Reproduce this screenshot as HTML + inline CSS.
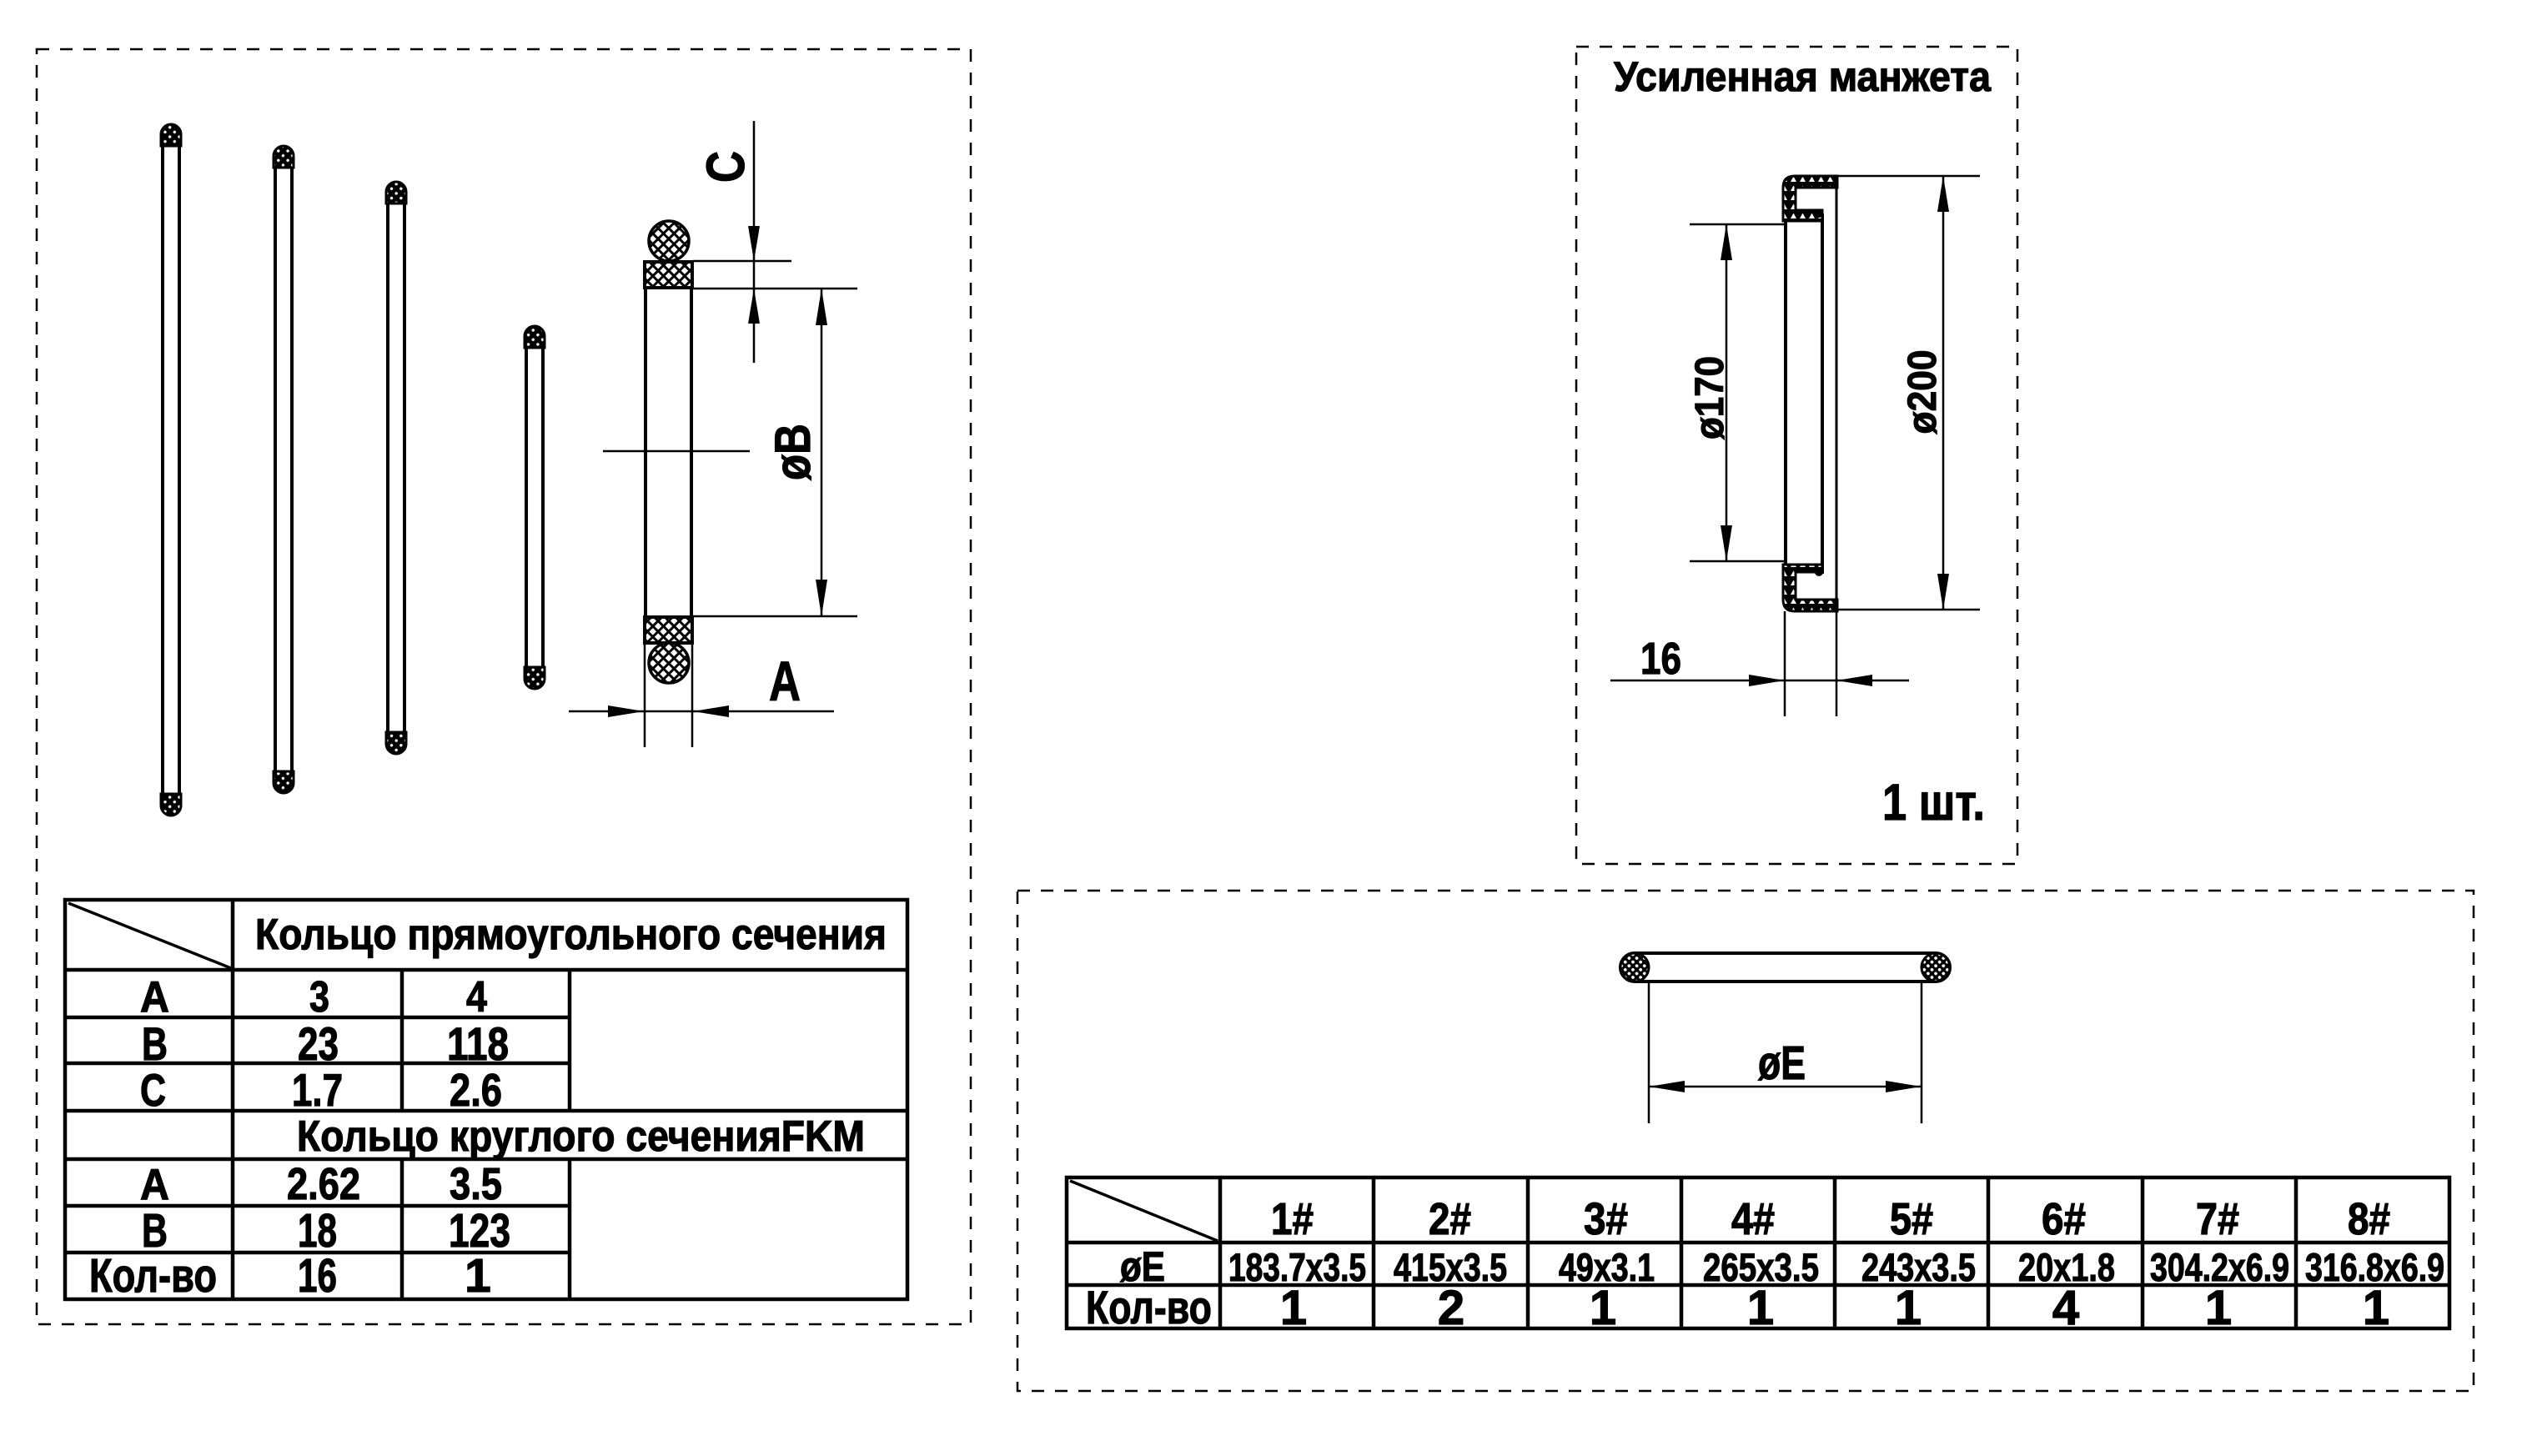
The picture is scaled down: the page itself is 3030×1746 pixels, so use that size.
<!DOCTYPE html>
<html><head><meta charset="utf-8">
<style>
html,body{margin:0;padding:0;background:#fff;}
svg{display:block;}
text{font-family:"Liberation Sans",Arial,sans-serif;font-weight:bold;fill:#000;stroke:#000;stroke-width:1.2px;}
</style></head><body>
<svg width="3030" height="1746" viewBox="0 0 3030 1746" xmlns="http://www.w3.org/2000/svg">
<defs>
<pattern id="xh" width="9" height="9" patternUnits="userSpaceOnUse" patternTransform="rotate(45)">
<rect width="9" height="9" fill="#fff"/>
<rect x="0" y="3" width="9" height="3" fill="#000"/>
<rect x="3" y="0" width="3" height="9" fill="#000"/>
</pattern>
<pattern id="dots" width="8" height="8" patternUnits="userSpaceOnUse" patternTransform="rotate(45)">
<rect width="8" height="8" fill="#000"/>
<circle cx="4" cy="4" r="1.7" fill="#fff"/>
</pattern>
<pattern id="dots2" width="6.5" height="6.5" patternUnits="userSpaceOnUse" patternTransform="rotate(45)">
<rect width="6.5" height="6.5" fill="#000"/>
<circle cx="3.25" cy="3.25" r="1.9" fill="#fff"/>
</pattern>
<pattern id="tri" width="11" height="11" patternUnits="userSpaceOnUse">
<rect width="11" height="11" fill="#000"/>
<path d="M2 9 L5.5 2.5 L9 9Z" fill="#fff"/>
</pattern>
</defs>
<rect width="3030" height="1746" fill="#fff"/>

<!-- dashed boxes -->
<g fill="none" stroke="#000" stroke-width="2.5" stroke-dasharray="15 13">
<rect x="44" y="59" width="1120" height="1529"/>
<rect x="1890" y="56" width="529" height="980"/>
<rect x="1220" y="1068" width="1746" height="600"/>
</g>

<!-- bars -->
<g stroke="#000">
<rect x="195" y="151" width="20" height="825" rx="10" fill="#fff" stroke-width="4"/>
<path d="M193 161 A12 12 0 0 1 217 161 V175 H193 Z" fill="url(#dots)" stroke-width="3"/>
<path d="M193 966 A12 12 0 0 0 217 966 V952 H193 Z" fill="url(#dots)" stroke-width="3"/>

<rect x="330" y="177" width="20" height="772" rx="10" fill="#fff" stroke-width="4"/>
<path d="M328 187 A12 12 0 0 1 352 187 V201 H328 Z" fill="url(#dots)" stroke-width="3"/>
<path d="M328 939 A12 12 0 0 0 352 939 V925 H328 Z" fill="url(#dots)" stroke-width="3"/>

<rect x="465" y="220" width="20" height="682" rx="10" fill="#fff" stroke-width="4"/>
<path d="M463 230 A12 12 0 0 1 487 230 V244 H463 Z" fill="url(#dots)" stroke-width="3"/>
<path d="M463 892 A12 12 0 0 0 487 892 V878 H463 Z" fill="url(#dots)" stroke-width="3"/>

<rect x="631" y="393" width="20" height="431" rx="10" fill="#fff" stroke-width="4"/>
<path d="M629 403 A12 12 0 0 1 653 403 V417 H629 Z" fill="url(#dots)" stroke-width="3"/>
<path d="M629 814 A12 12 0 0 0 653 814 V800 H629 Z" fill="url(#dots)" stroke-width="3"/>
</g>

<!-- ring section -->
<g stroke="#000">
<line x1="774" y1="313" x2="774" y2="771" stroke-width="4"/>
<line x1="829" y1="313" x2="829" y2="771" stroke-width="4"/>
<rect x="773" y="314" width="57" height="31" fill="url(#xh)" stroke-width="4"/>
<rect x="773" y="740" width="57" height="31" fill="url(#xh)" stroke-width="4"/>
<circle cx="802" cy="289" r="24" fill="url(#xh)" stroke-width="3.5"/>
<circle cx="802" cy="795" r="24" fill="url(#xh)" stroke-width="3.5"/>
</g>
<g stroke="#000" stroke-width="2.5">
<line x1="831" y1="313" x2="949" y2="313"/>
<line x1="831" y1="346" x2="1028" y2="346"/>
<line x1="831" y1="739" x2="1028" y2="739"/>
<line x1="904" y1="145" x2="904" y2="435"/>
<line x1="985" y1="346" x2="985" y2="739"/>
<line x1="723" y1="541" x2="899" y2="541"/>
<line x1="682" y1="853" x2="1000" y2="853"/>
<line x1="773" y1="771" x2="773" y2="896"/>
<line x1="830" y1="771" x2="830" y2="896"/>
</g>
<g fill="#000">
<polygon points="904,313 897,271 911,271"/>
<polygon points="904,346 897,388 911,388"/>
<polygon points="985,346 978,390 992,390"/>
<polygon points="985,739 978,695 992,695"/>
<polygon points="772,853 729,846 729,860"/>
<polygon points="831,853 874,846 874,860"/>
</g>
<text transform="translate(892,200) rotate(-90)" x="-19" y="0" font-size="64" textLength="38" lengthAdjust="spacingAndGlyphs">C</text>
<text transform="translate(971,542) rotate(-90)" x="-34" y="0" font-size="60" textLength="68" lengthAdjust="spacingAndGlyphs">øB</text>
<text x="922" y="840" font-size="67" textLength="38" lengthAdjust="spacingAndGlyphs">A</text>

<!-- left table -->
<g stroke="#000" stroke-width="4.5" fill="none">
<rect x="78" y="1079" width="1010" height="479"/>
<line x1="78" y1="1163" x2="1088" y2="1163"/>
<line x1="78" y1="1332" x2="1088" y2="1332"/>
<line x1="78" y1="1390" x2="1088" y2="1390"/>
<line x1="78" y1="1220" x2="683" y2="1220"/>
<line x1="78" y1="1275" x2="683" y2="1275"/>
<line x1="78" y1="1446" x2="683" y2="1446"/>
<line x1="78" y1="1502" x2="683" y2="1502"/>
<line x1="279" y1="1079" x2="279" y2="1558"/>
<line x1="482" y1="1163" x2="482" y2="1332"/>
<line x1="683" y1="1163" x2="683" y2="1332"/>
<line x1="482" y1="1390" x2="482" y2="1558"/>
<line x1="683" y1="1390" x2="683" y2="1558"/>
<line x1="82" y1="1083" x2="277" y2="1161" stroke-width="3.5"/>
</g>
<g>
<text x="306" y="1138" font-size="52" textLength="757" lengthAdjust="spacingAndGlyphs">Кольцо прямоугольного сечения</text>
<text x="168" y="1213" font-size="52" textLength="35" lengthAdjust="spacingAndGlyphs">A</text>
<text x="371" y="1213" font-size="52" textLength="24" lengthAdjust="spacingAndGlyphs">3</text>
<text x="559" y="1213" font-size="52" textLength="25" lengthAdjust="spacingAndGlyphs">4</text>
<text x="170" y="1271" font-size="56" textLength="31" lengthAdjust="spacingAndGlyphs">B</text>
<text x="357" y="1271" font-size="56" textLength="49" lengthAdjust="spacingAndGlyphs">23</text>
<text x="536" y="1271" font-size="56" textLength="74" lengthAdjust="spacingAndGlyphs">118</text>
<text x="168" y="1326" font-size="55" textLength="31" lengthAdjust="spacingAndGlyphs">C</text>
<text x="350" y="1326" font-size="55" textLength="61" lengthAdjust="spacingAndGlyphs">1.7</text>
<text x="539" y="1326" font-size="55" textLength="63" lengthAdjust="spacingAndGlyphs">2.6</text>
<text x="356" y="1380" font-size="52" textLength="681" lengthAdjust="spacingAndGlyphs">Кольцо круглого сеченияFKM</text>
<text x="168" y="1438" font-size="52" textLength="35" lengthAdjust="spacingAndGlyphs">A</text>
<text x="344" y="1438" font-size="54" textLength="88" lengthAdjust="spacingAndGlyphs">2.62</text>
<text x="539" y="1438" font-size="54" textLength="63" lengthAdjust="spacingAndGlyphs">3.5</text>
<text x="170" y="1495" font-size="57" textLength="31" lengthAdjust="spacingAndGlyphs">B</text>
<text x="357" y="1495" font-size="57" textLength="47" lengthAdjust="spacingAndGlyphs">18</text>
<text x="538" y="1495" font-size="57" textLength="74" lengthAdjust="spacingAndGlyphs">123</text>
<text x="107" y="1549" font-size="57" textLength="153" lengthAdjust="spacingAndGlyphs">Кол-во</text>
<text x="357" y="1549" font-size="57" textLength="47" lengthAdjust="spacingAndGlyphs">16</text>
<text x="573" y="1549" font-size="57" text-anchor="middle">1</text>
</g>

<!-- cuff -->
<text x="1935" y="109" font-size="50" textLength="452" lengthAdjust="spacingAndGlyphs">Усиленная манжета</text>
<g stroke="#000">
<line x1="2141" y1="263" x2="2141" y2="679" stroke-width="4"/>
<line x1="2185" y1="256" x2="2185" y2="688" stroke-width="4"/>
<line x1="2202" y1="211" x2="2202" y2="733" stroke-width="3"/>
<path d="M2138 225 Q2138 211 2152 211 L2203 211 L2203 225 L2153 225 L2153 252 L2185 252 L2185 265 L2138 265 Z" fill="url(#tri)" stroke-width="3"/>
<path d="M2138 677 L2185 677 L2185 686 L2153 686 L2153 719 L2203 719 L2203 733 L2152 733 Q2138 733 2138 719 Z" fill="url(#tri)" stroke-width="3"/>
</g>
<circle cx="2181" cy="256" r="5" fill="#000"/>
<circle cx="2181" cy="686" r="5" fill="#000"/>
<g stroke="#000" stroke-width="2.5">
<line x1="2026" y1="269" x2="2141" y2="269"/>
<line x1="2026" y1="673" x2="2141" y2="673"/>
<line x1="2070" y1="269" x2="2070" y2="673"/>
<line x1="2203" y1="211" x2="2374" y2="211"/>
<line x1="2203" y1="731" x2="2374" y2="731"/>
<line x1="2330" y1="211" x2="2330" y2="731"/>
<line x1="1931" y1="816" x2="2289" y2="816"/>
<line x1="2140" y1="733" x2="2140" y2="859"/>
<line x1="2202" y1="733" x2="2202" y2="859"/>
</g>
<g fill="#000">
<polygon points="2070,269 2063,312 2077,312"/>
<polygon points="2070,673 2063,630 2077,630"/>
<polygon points="2330,211 2323,254 2337,254"/>
<polygon points="2330,731 2323,688 2337,688"/>
<polygon points="2140,816 2097,809 2097,823"/>
<polygon points="2202,816 2245,809 2245,823"/>
</g>
<text transform="translate(2066,477) rotate(-90)" x="-50" y="0" font-size="48" textLength="100" lengthAdjust="spacingAndGlyphs">ø170</text>
<text transform="translate(2321,470) rotate(-90)" x="-50.5" y="0" font-size="48" textLength="101" lengthAdjust="spacingAndGlyphs">ø200</text>
<text x="1967" y="808" font-size="54" textLength="49" lengthAdjust="spacingAndGlyphs">16</text>
<text x="2257" y="983" font-size="61" textLength="123" lengthAdjust="spacingAndGlyphs">1 шт.</text>

<!-- O-ring E -->
<rect x="1943" y="1143" width="395" height="34" rx="17" fill="#fff" stroke="#000" stroke-width="4"/>
<circle cx="1960" cy="1160" r="17" fill="url(#dots2)" stroke="#000" stroke-width="3"/>
<circle cx="2321" cy="1160" r="17" fill="url(#dots2)" stroke="#000" stroke-width="3"/>
<g stroke="#000" stroke-width="2.5">
<line x1="1977" y1="1177" x2="1977" y2="1347"/>
<line x1="2304" y1="1177" x2="2304" y2="1347"/>
<line x1="1977" y1="1303" x2="2304" y2="1303"/>
</g>
<g fill="#000">
<polygon points="1977,1303 2020,1296 2020,1310"/>
<polygon points="2304,1303 2261,1296 2261,1310"/>
</g>
<text x="2108" y="1294" font-size="57" textLength="57" lengthAdjust="spacingAndGlyphs">øE</text>

<!-- right table -->
<g stroke="#000" stroke-width="4.5" fill="none">
<rect x="1279" y="1412" width="1658" height="181"/>
<line x1="1279" y1="1490" x2="2937" y2="1490"/>
<line x1="1279" y1="1541" x2="2937" y2="1541"/>
<line x1="1463" y1="1412" x2="1463" y2="1593"/>
<line x1="1647" y1="1412" x2="1647" y2="1593"/>
<line x1="1832" y1="1412" x2="1832" y2="1593"/>
<line x1="2016" y1="1412" x2="2016" y2="1593"/>
<line x1="2200" y1="1412" x2="2200" y2="1593"/>
<line x1="2384" y1="1412" x2="2384" y2="1593"/>
<line x1="2569" y1="1412" x2="2569" y2="1593"/>
<line x1="2753" y1="1412" x2="2753" y2="1593"/>
<line x1="1283" y1="1416" x2="1460" y2="1488" stroke-width="3.5"/>
</g>
<g font-size="54">
<text x="1524" y="1480" textLength="51" lengthAdjust="spacingAndGlyphs">1#</text>
<text x="1713" y="1480" textLength="51" lengthAdjust="spacingAndGlyphs">2#</text>
<text x="1899" y="1480" textLength="53" lengthAdjust="spacingAndGlyphs">3#</text>
<text x="2076" y="1480" textLength="52" lengthAdjust="spacingAndGlyphs">4#</text>
<text x="2266" y="1480" textLength="52" lengthAdjust="spacingAndGlyphs">5#</text>
<text x="2448" y="1480" textLength="53" lengthAdjust="spacingAndGlyphs">6#</text>
<text x="2633" y="1480" textLength="52" lengthAdjust="spacingAndGlyphs">7#</text>
<text x="2815" y="1480" textLength="51" lengthAdjust="spacingAndGlyphs">8#</text>
</g>
<g font-size="47">
<text x="1343" y="1536" font-size="50" textLength="54" lengthAdjust="spacingAndGlyphs">øE</text>
<text x="1473" y="1536" textLength="165" lengthAdjust="spacingAndGlyphs">183.7x3.5</text>
<text x="1671" y="1536" textLength="136" lengthAdjust="spacingAndGlyphs">415x3.5</text>
<text x="1869" y="1536" textLength="115" lengthAdjust="spacingAndGlyphs">49x3.1</text>
<text x="2042" y="1536" textLength="139" lengthAdjust="spacingAndGlyphs">265x3.5</text>
<text x="2232" y="1536" textLength="137" lengthAdjust="spacingAndGlyphs">243x3.5</text>
<text x="2420" y="1536" textLength="116" lengthAdjust="spacingAndGlyphs">20x1.8</text>
<text x="2578" y="1536" textLength="167" lengthAdjust="spacingAndGlyphs">304.2x6.9</text>
<text x="2764" y="1536" textLength="167" lengthAdjust="spacingAndGlyphs">316.8x6.9</text>
</g>
<g font-size="58" text-anchor="middle">
<text x="1302" y="1587" font-size="56" text-anchor="start" textLength="151" lengthAdjust="spacingAndGlyphs">Кол-во</text>
<text x="1551" y="1588">1</text>
<text x="1740" y="1588">2</text>
<text x="1922" y="1588">1</text>
<text x="2111" y="1588">1</text>
<text x="2288" y="1588">1</text>
<text x="2477" y="1588">4</text>
<text x="2660" y="1588">1</text>
<text x="2849" y="1588">1</text>
</g>
</svg>
</body></html>
